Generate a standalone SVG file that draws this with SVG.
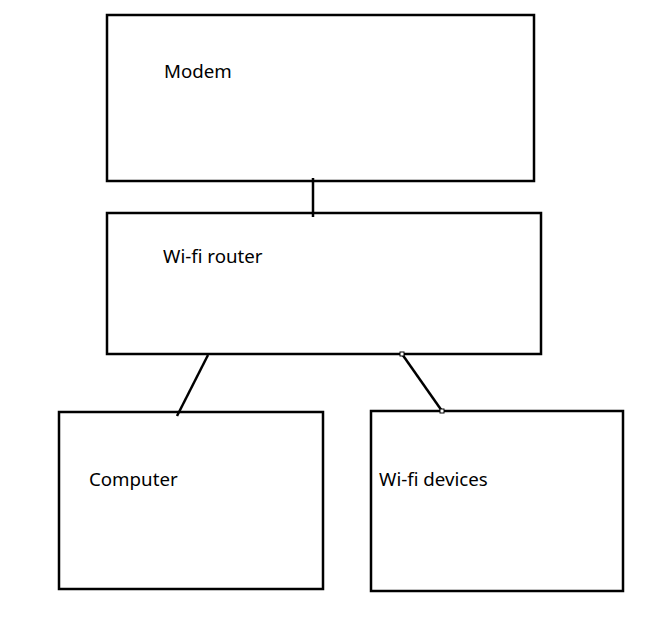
<svg xmlns="http://www.w3.org/2000/svg" width="654" height="635" viewBox="0 0 654 635">
<style>
.box{fill:#fff;stroke:#000;stroke-width:2.5}
.lbl{font-family:"Noto Sans","Open Sans",sans-serif;font-size:18.7px;fill:#000}
.ln{stroke:#000;stroke-width:2.5;fill:none}
.h{fill:#fff;stroke:#000;stroke-width:1}
</style>
<rect width="654" height="635" fill="#fff"/>
<g id="modem"><rect class="box" x="107" y="15" width="427" height="166"/><text class="lbl" x="164" y="78">Modem</text></g>
<g id="router"><rect class="box" x="107" y="213" width="434" height="141"/><text class="lbl" x="163" y="263">Wi-fi router</text></g>
<g id="computer"><rect class="box" x="59" y="412" width="264" height="177"/><text class="lbl" x="89" y="486">Computer</text></g>
<g id="wifi-devices"><rect class="box" x="371" y="411" width="252" height="180"/><text class="lbl" x="379" y="486">Wi-fi devices</text></g>
<g id="connectors">
<line class="ln" x1="313" y1="178" x2="313" y2="217"/>
<line class="ln" x1="208" y1="355" x2="177" y2="416"/>
<line class="ln" x1="402" y1="354" x2="442" y2="411"/>
<rect class="h" x="400" y="352" width="4" height="4"/>
<rect class="h" x="440" y="409" width="4" height="4"/>
</g>
</svg>
